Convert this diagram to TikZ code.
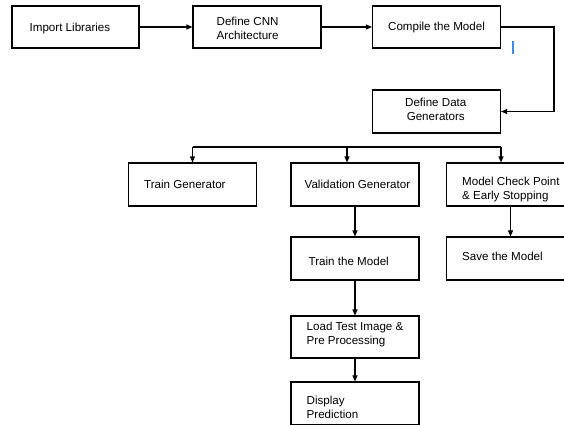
\documentclass[tikz,border=0pt]{standalone}
\usepackage{fontspec}
\setmainfont{Liberation Sans}
\usetikzlibrary{arrows.meta}
\definecolor{tickblue}{RGB}{60,140,225}
\tikzset{
	box/.style = {draw, line width=1.1pt, minimum width=128pt, minimum height=43pt, inner sep=0pt},
	txt/.style = {anchor=west, inner sep=0pt, align=left, font=\fontsize{11.6}{14}\selectfont},
	arr/.style = {line width=1.1pt, -{Triangle[length=6pt,width=5pt]}}
}
\begin{document}
\begin{tikzpicture}[x=1pt, y=-1pt]
		\useasboundingbox (0,0) rectangle (564,425);
		\node[box, minimum width=127pt, minimum height=42pt, label={[txt, xshift=18pt, yshift=-2pt]west:Import Libraries}] (imp) at (75.5,27) {};
		\node[box, minimum height=42pt, label={[txt, xshift=24pt, yshift=-1pt]west:Define CNN\\Architecture}] (cnn) at (257,27) {};
		\node[box, minimum height=42pt, label={[txt, xshift=16pt, yshift=-1pt]west:Compile the Model}] (comp) at (436.5,27) {};
		\node[box, label={[txt, align=center, xshift=33pt, yshift=2.5pt]west:Define Data\\Generators}] (gen) at (436.5,111.5) {};
		%%%%%%%%%
		\node[box, label={[txt, xshift=16pt]west:Train Generator}] (trg) at (192.5,184.5) {};
		\node[box, label={[txt, xshift=14pt]west:Validation Generator}] (val) at (355,184.5) {};
		\node[box, label={[txt, xshift=16pt, yshift=-5pt]west:Model Check Point\\\& Early Stopping}] (chk) at (510.5,184.5) {};
		\node[box, label={[txt, xshift=18pt, yshift=-3pt]west:Train the Model}] (trm) at (355,258.5) {};
		\node[box, label={[txt, xshift=16pt, yshift=2pt]west:Save the Model}] (sav) at (510.5,258.5) {};
		\node[box, minimum height=42pt, label={[txt, xshift=16pt, yshift=3pt]west:Load Test Image \&\\Pre Processing}] (lod) at (355,337) {};
		\node[box, label={[txt, xshift=16pt, yshift=-3.5pt]west:Display\\Prediction}] (dsp) at (355,403.5) {};
		%%%%%%%%%
		\draw[arr] (imp) -- (cnn);
		\draw[arr] (cnn) -- (comp);
		\coordinate (ret) at (554,27);
		\draw[arr] (comp.east) -- (ret) |- (gen.east);
		\coordinate (bl) at (192.5,147);
		\coordinate (bm) at (347,147);
		\coordinate (br) at (501,147);
		\draw[line width=1.1pt] (bl) -- (br);
		\draw[arr] (bl) -- (trg.north);
		\draw[arr] (bm) -- (bm |- val.north);
		\draw[arr] (br) -- (br |- chk.north);
		\draw[arr] (val) -- (trm);
		\draw[arr] (chk) -- (sav);
		\draw[arr] (trm) -- (lod);
		\draw[arr] (lod) -- (dsp);
		%%%%%%%%%
		\draw[tickblue, line width=1.6pt] (513,41) -- (513,54);
	\end{tikzpicture}
\end{document}
